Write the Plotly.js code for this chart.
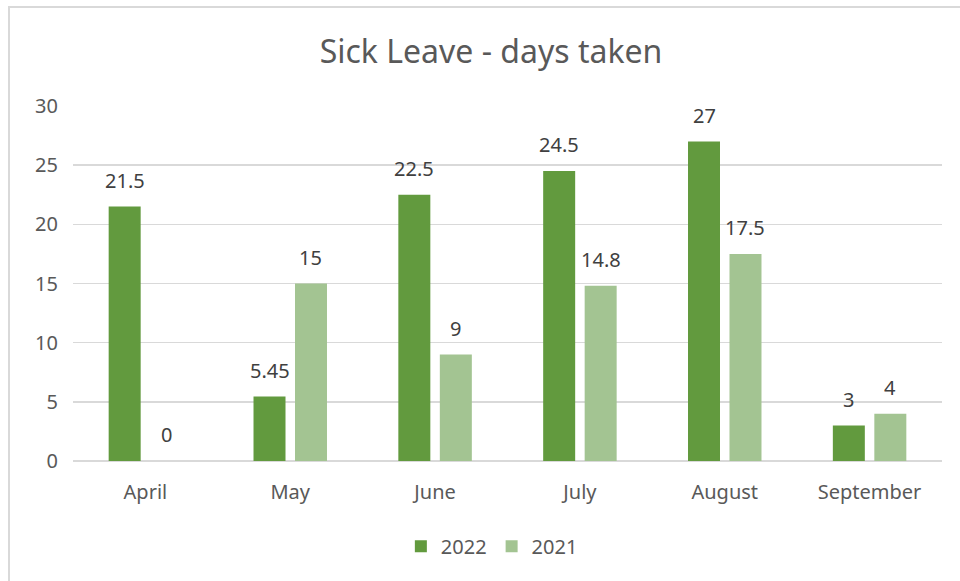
<!DOCTYPE html>
<html>
<head>
<meta charset="utf-8">
<script src="https://cdn.plot.ly/plotly-3.0.1.min.js"></script>
<style>
  html, body { margin: 0; padding: 0; background: #ffffff; }
  #wrap { position: relative; width: 960px; height: 581px; }
  #chart { width: 960px; height: 581px; }
  #frame { position: absolute; left: 8px; top: 6px; right: -4px; bottom: -4px;
           border-left: 2px solid #d9d9d9; border-top: 2px solid #d9d9d9; pointer-events: none; }
</style>
</head>
<body>
<div id="wrap">
  <div id="chart"></div>
  <div id="frame"></div>
</div>
<script>
const months = ["April", "May", "June", "July", "August", "September"];
const days2022 = [21.5, 5.45, 22.5, 24.5, 27, 3];
const days2021 = [0, 15, 9, 14.8, 17.5, 4];
const seriesNames = ["2022", "2021"];
const yTicks = [0, 5, 10, 15, 20, 25, 30];

const colors = ["#629a3e", "#a3c492"];
const textColor = "#595959";
const labelColor = "#404040";
const font = "Noto Sans, Open Sans, sans-serif";

const traces = [
  { type: "bar", name: seriesNames[0], x: months, y: days2022,
    marker: { color: colors[0] }, hoverinfo: "x+y" },
  { type: "bar", name: seriesNames[1], x: months, y: days2021,
    marker: { color: colors[1] }, hoverinfo: "x+y" }
];

// data labels above bars
const plotW = 869;
const catW = plotW / months.length;
const bargap = 0.427;
const half = catW * (1 - bargap) / 4;
const annotations = [];
[days2022, days2021].forEach((vals, si) => {
  vals.forEach((v, i) => {
    annotations.push({
      x: months[i], y: v, xref: "x", yref: "y",
      text: String(v), showarrow: false,
      xshift: si === 0 ? -half : half,
      yanchor: "bottom", yshift: 11,
      font: { family: font, size: 20, color: labelColor }
    });
  });
});

const layout = {
  width: 960, height: 581,
  margin: { l: 73, r: 18, t: 106, b: 120 },
  paper_bgcolor: "#ffffff", plot_bgcolor: "#ffffff",
  title: { text: "Sick Leave - days taken", x: 491 / 960, xanchor: "center",
           y: 1 - 52 / 581, yanchor: "middle",
           font: { family: font, size: 32, color: textColor } },
  barmode: "group", bargap: bargap, bargroupgap: 0.229,
  showlegend: true,
  legend: { orientation: "h", x: 0.482, xanchor: "center", y: -0.24, yanchor: "middle",
            font: { family: font, size: 20, color: textColor }, itemwidth: 30,
            traceorder: "normal" },
  xaxis: { type: "category", showgrid: false, showline: false, zeroline: false,
           ticks: "", ticklabelstandoff: 17,
           tickfont: { family: font, size: 20, color: textColor }, fixedrange: true },
  yaxis: { range: [0, 30], tickvals: yTicks, ticktext: yTicks.map(String),
           showgrid: true, gridcolor: "#d9d9d9", gridwidth: 1.5,
           zeroline: true, zerolinecolor: "#d9d9d9", zerolinewidth: 1.5,
           showline: false, ticks: "", ticklabelstandoff: 14,
           tickfont: { family: font, size: 20, color: textColor }, fixedrange: true },
  annotations: annotations
};

Plotly.newPlot("chart", traces, layout, { displayModeBar: false, staticPlot: true });
</script>
</body>
</html>
